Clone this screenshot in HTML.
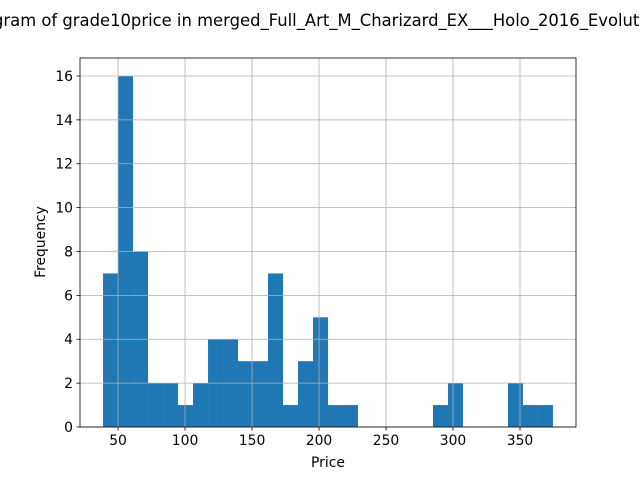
<!DOCTYPE html>
<html><head><meta charset="utf-8"><style>
body{margin:0;background:#fff;}
svg{display:block;font-family:"DejaVu Sans","Liberation Sans",sans-serif;}
</style></head><body>
<svg id="chart" width="640" height="480">
<rect x="0" y="0" width="640" height="480" fill="#fff"/>
<g id="grid"></g><g id="bars"></g><g id="axes"></g>
<text x="312" y="26" text-anchor="middle" font-size="16.4" fill="#000">Histogram of grade10price in merged_Full_Art_M_Charizard_EX___Holo_2016_Evolutions</text>
<text x="328" y="467" text-anchor="middle" font-size="13.9">Price</text>
<text transform="translate(45,242) rotate(-90)" text-anchor="middle" font-size="13.9">Frequency</text>
</svg>
<script>
const binStart = 38.8;
const binWidth = 11.193;
const counts = [7,16,8,2,2,1,2,4,4,3,3,7,1,3,5,1,1,0,0,0,0,0,1,2,0,0,0,2,1,1];
const xTicks = [50,100,150,200,250,300,350];
const yTicks = [0,2,4,6,8,10,12,14,16];
const L=80,R=576,T=58,B=427;
const xMin=21.6,xMax=391.8,yMax=16.82;
const sx=v=>L+(v-xMin)/(xMax-xMin)*(R-L);
const sy=v=>B-v/yMax*(B-T);
const NS="http://www.w3.org/2000/svg";
function mk(p,tag,a){const e=document.createElementNS(NS,tag);for(const k in a)e.setAttribute(k,a[k]);p.appendChild(e);return e;}
const grid=document.getElementById('grid'),bars=document.getElementById('bars'),axes=document.getElementById('axes');
counts.forEach((c,i)=>{if(!c)return;
 const x0=sx(binStart+i*binWidth),x1=sx(binStart+(i+1)*binWidth);
 const r=mk(bars,'rect',{x:x0,y:sy(c),width:x1-x0,height:B-sy(c),fill:'#1f77b4'});
 
 
});
xTicks.forEach(t=>{const x=sx(t);
 mk(axes,'line',{x1:x,x2:x,y1:T,y2:B,stroke:'#b0b0b0','stroke-width':0.8});
 mk(axes,'line',{x1:x,x2:x,y1:B,y2:B+3.5,stroke:'#000','stroke-width':0.8});
 const tx=mk(axes,'text',{x:x,y:B+18,'text-anchor':'middle','font-size':13.9});tx.textContent=t;
 
 
});
yTicks.forEach(t=>{const y=sy(t);
 mk(axes,'line',{x1:L,x2:R,y1:y,y2:y,stroke:'#b0b0b0','stroke-width':0.8});
 mk(axes,'line',{x1:L-3.5,x2:L,y1:y,y2:y,stroke:'#000','stroke-width':0.8});
 const tx=mk(axes,'text',{x:L-7,y:y+5,'text-anchor':'end','font-size':13.9});tx.textContent=t;
 
 
});
const f=mk(axes,'rect',{x:L,y:T,width:R-L,height:B-T,fill:'none',stroke:'#000','stroke-width':0.8});


</script>
</body></html>
